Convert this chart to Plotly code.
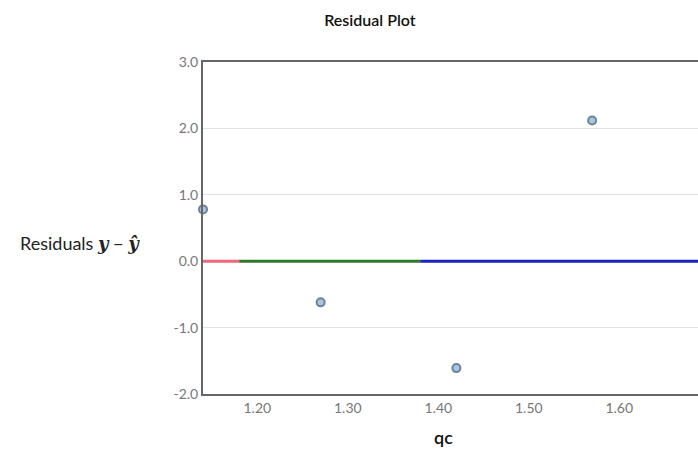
import plotly.graph_objects as go

# Observed qc values and their residuals
qc = [1.14, 1.27, 1.42, 1.57]
residuals = [0.78, -0.62, -1.61, 2.12]

# Zero-residual reference line split into coloured segments
segment_starts = [1.14, 1.18, 1.38]
segment_ends = [1.18, 1.38, 1.70]
segment_colors = ["#ee6677", "#2f7a2a", "#1c22c4"]

x_ticks = [1.20, 1.30, 1.40, 1.50, 1.60]
x_tick_labels = ["1.20", "1.30", "1.40", "1.50", "1.60"]
y_ticks = [-2.0, -1.0, 0.0, 1.0, 2.0, 3.0]
y_tick_labels = ["-2.0", "-1.0", "0.0", "1.0", "2.0", "3.0"]

FONT = "Lato, 'Open Sans', sans-serif"
MATH = "font-family:'DejaVu Serif',serif;font-weight:bold;font-style:italic"

fig = go.Figure()

for x0, x1, c in zip(segment_starts, segment_ends, segment_colors):
    fig.add_trace(go.Scatter(
        x=[x0, x1], y=[0, 0], mode="lines",
        line=dict(color=c, width=3), hoverinfo="skip", showlegend=False,
    ))

fig.add_trace(go.Scatter(
    x=qc, y=residuals, mode="markers",
    marker=dict(size=8, color="#a9c6de", line=dict(color="#6c8499", width=2)),
    cliponaxis=False, showlegend=False,
))

y_label = (f"Residuals <span style=\"{MATH}\">y</span> − "
           f"<span style=\"{MATH}\">ŷ</span>")

fig.update_layout(
    width=698, height=454,
    margin=dict(l=203, r=0, t=62, b=60),
    paper_bgcolor="white", plot_bgcolor="white",
    font=dict(family=FONT, color="#555"),
    title=dict(text="Residual Plot", x=0.530, xanchor="center", y=0.955,
               yanchor="middle",
               font=dict(size=16, color="#111", family=FONT, weight=600)),
    annotations=[
        dict(text="qc", xref="paper", yref="paper", x=0.485, y=-0.13,
             xanchor="center", yanchor="middle", showarrow=False,
             font=dict(size=18, color="#111", family=FONT, weight=600)),
        dict(text=y_label, xref="paper", yref="paper", x=-0.248, y=0.455,
             xanchor="center", yanchor="middle", showarrow=False,
             font=dict(size=18, color="#222", family=FONT)),
    ],
)

fig.update_xaxes(
    range=[1.14, 1.687], tickvals=x_ticks, ticktext=x_tick_labels,
    showgrid=False, zeroline=False,
    showline=True, linecolor="#666", linewidth=2, mirror=True,
    ticks="", tickfont=dict(size=14, color="#777"),
)
fig.update_yaxes(
    range=[-2.0, 3.0], tickvals=y_ticks, ticktext=y_tick_labels,
    showgrid=True, gridcolor="#e2e2e2", gridwidth=1, zeroline=False,
    showline=True, linecolor="#666", linewidth=2, mirror=False,
    ticks="", tickfont=dict(size=14, color="#777"),
)

fig.write_html("out.html")
